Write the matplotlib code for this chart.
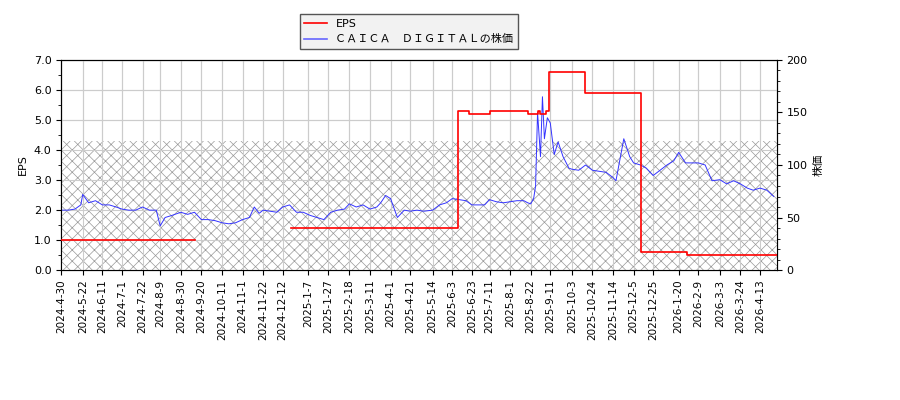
import matplotlib
matplotlib.use("Agg")
import matplotlib.pyplot as plt
import numpy as np
import pandas as pd

plt.rcParams['font.family'] = ['DejaVu Sans', 'Noto Sans CJK JP']
plt.rcParams['hatch.linewidth'] = 0.5
plt.rcParams['hatch.color'] = '#999999'

price_dates = ["2024-04-30","2024-05-07","2024-05-14","2024-05-20","2024-05-22","2024-05-28","2024-06-04","2024-06-11","2024-06-18","2024-06-25",
"2024-07-01","2024-07-08","2024-07-15","2024-07-22","2024-07-29","2024-08-05","2024-08-09","2024-08-14","2024-08-21","2024-08-30",
"2024-09-06","2024-09-13","2024-09-20","2024-09-27","2024-10-04","2024-10-11","2024-10-18","2024-10-25","2024-11-01","2024-11-08",
"2024-11-13","2024-11-18","2024-11-22","2024-11-29","2024-12-06","2024-12-12","2024-12-19","2024-12-26","2025-01-02","2025-01-09",
"2025-01-16","2025-01-23","2025-01-30","2025-02-06","2025-02-13","2025-02-18","2025-02-25","2025-03-04","2025-03-11","2025-03-18",
"2025-03-22","2025-03-27","2025-04-01","2025-04-08","2025-04-15","2025-04-21","2025-04-28","2025-05-05","2025-05-14","2025-05-21",
"2025-05-28","2025-06-03","2025-06-10","2025-06-17","2025-06-23","2025-06-30","2025-07-06","2025-07-11","2025-07-18","2025-07-25",
"2025-08-01","2025-08-08","2025-08-15","2025-08-19","2025-08-22","2025-08-25","2025-08-27","2025-08-29","2025-09-01","2025-09-03",
"2025-09-05","2025-09-08","2025-09-11","2025-09-15","2025-09-19","2025-09-24","2025-09-30","2025-10-03","2025-10-10","2025-10-17",
"2025-10-24","2025-10-31","2025-11-07","2025-11-14","2025-11-17","2025-11-20","2025-11-25","2025-12-01","2025-12-05","2025-12-12",
"2025-12-18","2025-12-25","2026-01-01","2026-01-08","2026-01-15","2026-01-20","2026-01-27","2026-02-03","2026-02-09","2026-02-16",
"2026-02-23","2026-03-03","2026-03-10","2026-03-17","2026-03-24","2026-03-31","2026-04-06","2026-04-13","2026-04-20","2026-04-27"]
price_vals = [57,57,58,62,72,64,66,62,62,60,
58,57,57,60,57,57,42,50,52,55,
53,55,48,48,47,45,44,45,48,50,
60,54,57,56,55,60,62,55,55,52,
50,48,55,57,58,63,60,62,58,60,
64,71,68,50,57,56,57,56,57,62,
64,68,67,66,62,62,62,67,65,64,
65,66,66,64,63,68,80,150,108,165,
125,145,140,110,122,108,97,96,95,100,
95,94,93,88,85,100,125,108,102,100,
97,90,95,100,104,112,102,102,102,100,
85,86,82,85,82,78,76,78,76,70]

eps_dates = ["2024-04-30","2024-09-13","2024-09-14","2024-12-20","2025-06-08","2025-06-09","2025-06-20","2025-07-10","2025-07-11","2025-08-14","2025-08-19","2025-08-29","2025-09-01","2025-09-07","2025-09-10","2025-10-13","2025-10-16","2025-12-10","2025-12-13","2026-01-28","2026-04-30"]
eps_vals = [1.0,1.0,np.nan,1.4,1.4,5.3,5.2,5.2,5.3,5.3,5.2,5.3,5.2,5.3,6.6,6.6,5.9,5.9,0.6,0.5,0.5]

tick_labels = ["2024-4-30","2024-5-22","2024-6-11","2024-7-1","2024-7-22","2024-8-9","2024-8-30","2024-9-20","2024-10-11",
"2024-11-1","2024-11-22","2024-12-12","2025-1-7","2025-1-27","2025-2-18","2025-3-11","2025-4-1","2025-4-21","2025-5-14",
"2025-6-3","2025-6-23","2025-7-11","2025-8-1","2025-8-22","2025-9-11","2025-10-3","2025-10-24","2025-11-14","2025-12-5",
"2025-12-25","2026-1-20","2026-2-9","2026-3-3","2026-3-24","2026-4-13"]

pd_ = pd.to_datetime(price_dates)
ed = pd.to_datetime(eps_dates)
ticks = pd.to_datetime(tick_labels)

fig = plt.figure(figsize=(9, 4), dpi=100)
ax = fig.add_axes([0.068, 0.325, 0.795, 0.525])
ax2 = ax.twinx()

ax.set_ylim(0, 7)
ax2.set_ylim(0, 200)
start, end = pd.Timestamp("2024-04-30"), pd.Timestamp("2026-04-30")
ax.set_xlim(start, end)

ax2.fill_between([start, end], 0, 4.3 / 7 * 200, facecolor='white', edgecolor='#999999',
                 hatch='xxx', linewidth=0, zorder=0)
ax2.set_xlim(start, end)
ax.grid(True, color='#cccccc', linewidth=0.8)
ax.set_axisbelow(True)
ax2.set_zorder(ax.get_zorder() + 1)
ax2.patch.set_visible(False)
for x in ticks:
    ax2.axvline(x, color='#cccccc', linewidth=0.8, zorder=0.5)
for y in range(0, 8):
    ax2.axhline(y / 7 * 200, color='#cccccc', linewidth=0.8, zorder=0.5)

l2, = ax2.plot(pd_, price_vals, color='#3333ff', linewidth=0.7, zorder=2, label='ＣＡＩＣＡ　ＤＩＧＩＴＡＬの株価')
l1, = ax2.plot(ed, np.array(eps_vals) / 7 * 200, color='red', linewidth=1.2, drawstyle='steps-post', zorder=3, label='EPS')

ax.set_xticks(ticks)
ax.set_xticklabels(tick_labels, rotation=90, fontsize=7.5)
ax.set_yticks(np.arange(0, 7.01, 1.0))
ax.set_yticklabels([f"{v:.1f}" for v in np.arange(0, 7.01, 1.0)], fontsize=8)
ax.set_yticks(np.arange(0, 7.01, 0.5), minor=True)
ax2.set_yticks([0, 50, 100, 150, 200])
ax2.tick_params(labelsize=8)
ax2.set_yticks(np.arange(0, 201, 10), minor=True)
ax.set_ylabel('EPS', fontsize=8)
ax2.set_ylabel('株価', fontsize=8, family=['Noto Sans CJK JP'])

h2 = plt.Line2D([], [], color='#6666ff', linewidth=1.2)
fig.legend(handles=[l1, h2], labels=['EPS', 'ＣＡＩＣＡ　ＤＩＧＩＴＡＬの株価'], loc='upper left',
           bbox_to_anchor=(0.327, 0.978), fancybox=False, edgecolor='#555555', facecolor='#f2f2f2', framealpha=1,
           prop={'family': ['DejaVu Sans', 'Noto Sans CJK JP'], 'size': 8})
fig.savefig('out.png', dpi=100)
